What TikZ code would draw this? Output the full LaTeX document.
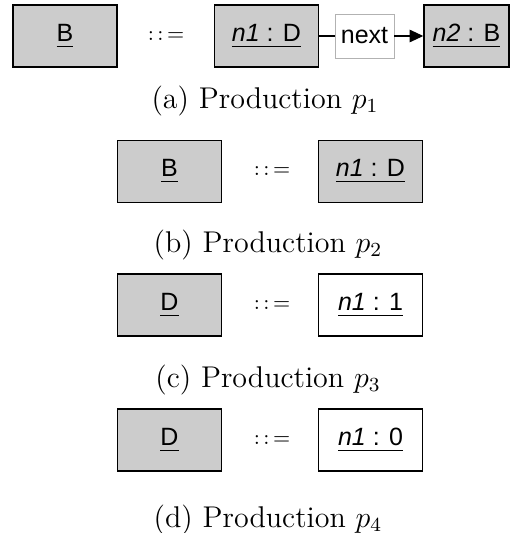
\documentclass[tikz,border=0pt]{standalone}
\usepackage{fontspec}
\newfontfamily\boxfont{Liberation Sans}
\usepackage{tikz}
\usetikzlibrary{positioning, arrows.meta}
\newcommand{\ulname}[1]{\underline{#1\vrule depth 0.6pt width 0pt}}

\begin{document}
\begin{tikzpicture}[
        x=0.4pt, y=-0.4pt,
        every node/.style={inner sep=0pt},
        obj/.style={draw, line width=0.55pt, fill=gray!40, minimum width=41.6pt, minimum height=24.8pt, font=\boxfont\fontsize{10}{12}\selectfont},
        val/.style={obj, fill=white},
        lbl/.style={draw=gray!60, line width=0.3pt, fill=white, minimum width=23.6pt, minimum height=17.6pt, font=\boxfont\fontsize{10}{12}\selectfont},
        defn/.style={font=\fontsize{8.3}{10}\selectfont},
        prodcap/.style={font=\fontsize{12}{14}\selectfont}]

        \useasboundingbox (0,0) rectangle (517,533);

        % (a)
        \node[obj] (Ba) at (65,36) {\ulname{B}};
        \node[defn] (eqa) at (166,36) {:\,:\,=};
        \node[obj] (n1a) at (266.5,36) {\ulname{\textit{n1} : D}};
        \node[lbl] (next) at (364.5,36) {next};
        \node[obj, minimum width=34pt] (n2a) at (466.5,36) {\ulname{\textit{n2} : B}};
        \draw[line width=0.55pt] (n1a) -- (next);
        \draw[line width=0.55pt, -{Stealth[length=5.5pt, width=5pt, inset=0pt]}] (next) -- (n2a);
        \node[prodcap] (capa) at (265,101) {(a) Production $p_1$};

        % (b)
        \node[obj] (Bb) at (169.5,171.5) {\ulname{B}};
        \node[defn] (eqb) at (272,171.5) {:\,:\,=};
        \node[obj] (n1b) at (370.5,171.5) {\ulname{\textit{n1} : D}};
        \node[prodcap] (capb) at (268,245) {(b) Production $p_2$};

        % (c)
        \node[obj] (Dc) at (169.5,305) {\ulname{D}};
        \node[defn] (eqc) at (272,305) {:\,:\,=};
        \node[val] (n1c) at (370.5,305) {\ulname{\textit{n1} : 1}};
        \node[prodcap] (capc) at (268,380) {(c) Production $p_3$};

        % (d)
        \node[obj] (Dd) at (169.5,440) {\ulname{D}};
        \node[defn] (eqd) at (272,440) {:\,:\,=};
        \node[val] (n1d) at (370.5,440) {\ulname{\textit{n1} : 0}};
        \node[prodcap] (capd) at (268,520) {(d) Production $p_4$};

    \end{tikzpicture}
\end{document}
